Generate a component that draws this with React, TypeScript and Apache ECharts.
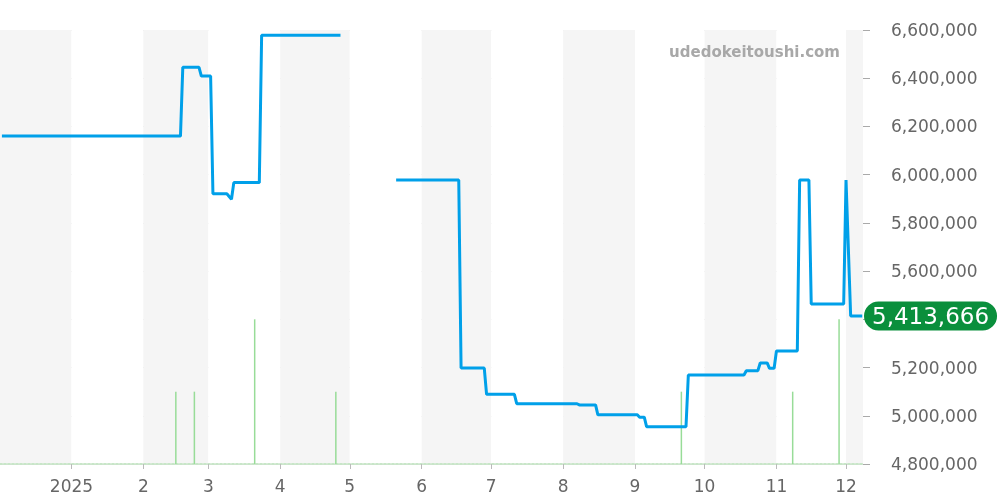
import React, { useEffect, useRef } from "react";
import * as echarts from "echarts";

const priceDates: string[] = [
  "2024-12-02", "2025-02-17", "2025-02-18", "2025-02-25", "2025-02-26", "2025-03-02",
  "2025-03-03", "2025-03-09", "2025-03-11", "2025-03-12", "2025-03-23", "2025-03-24",
  "2025-04-27", "2025-05-08", "2025-05-21", "2025-06-17", "2025-06-18", "2025-06-28",
  "2025-06-29", "2025-07-11", "2025-07-12", "2025-08-07", "2025-08-08", "2025-08-15",
  "2025-08-16", "2025-09-02", "2025-09-03", "2025-09-05", "2025-09-06", "2025-09-23",
  "2025-09-24", "2025-10-18", "2025-10-19", "2025-10-24", "2025-10-25", "2025-10-28",
  "2025-10-29", "2025-10-31", "2025-11-01", "2025-11-10", "2025-11-11", "2025-11-15",
  "2025-11-16", "2025-11-30", "2025-12-01", "2025-12-03", "2025-12-08",
];
const priceValues: (number | null)[] = [
  6160000, 6160000, 6445000, 6445000, 6409000, 6409000,
  5921000, 5921000, 5898000, 5967000, 5967000, 6578000,
  6578000, null, 5978000, 5978000, 5198000, 5198000,
  5089000, 5089000, 5050000, 5050000, 5045000, 5045000,
  5004000, 5004000, 4994000, 4994000, 4955000, 4955000,
  5169000, 5169000, 5187000, 5187000, 5219000, 5219000,
  5197000, 5197000, 5269000, 5269000, 5978000, 5978000,
  5464000, 5464000, 5978000, 5413666, 5413666,
];
const volumeDates: string[] = [
  "2025-02-15", "2025-02-23", "2025-03-21", "2025-04-25", "2025-09-21", "2025-11-08", "2025-11-28",
];
const volumeValues: number[] = [1, 1, 2, 1, 1, 1, 2];
const latestPrice = 5413666;
const yTicks = { min: 4800000, max: 6600000, interval: 200000 };

export default function App() {
  const ref = useRef<HTMLDivElement>(null);
  useEffect(() => {
    if (!ref.current) return;
    const chart = echarts.init(ref.current, undefined, { renderer: "svg" });
    const font = "'DejaVu Sans', sans-serif";
    chart.setOption({
      animation: false,
      grid: { left: 0, right: 137, top: 30, bottom: 36, outerBoundsMode: "none", containLabel: false },
      graphic: [
        {
          type: "text",
          right: 160,
          top: 44,
          style: {
            text: "udedokeitoushi.com",
            fill: "#a8a8a8",
            font: "bold 15px 'DejaVu Sans', sans-serif",
          },
          z: 10,
        },
      ],
      xAxis: {
        type: "time",
        min: new Date(2024, 11, 1, 12).getTime(),
        max: new Date(2025, 11, 8).getTime(),
        splitNumber: 12,
        minInterval: 28 * 86400000,
        axisLine: { show: true, lineStyle: { color: "#c8e6c8", type: [2, 2], width: 2 } },
        axisTick: { show: true, length: 5, lineStyle: { color: "#bbb" } },
        axisLabel: {
          color: "#666",
          fontSize: 17,
          fontFamily: font,
          margin: 13,
          showMinLabel: false,
          formatter: (v: number) => {
            const d = new Date(v);
            return d.getMonth() === 0 ? String(d.getFullYear()) : String(d.getMonth() + 1);
          },
        },
        splitLine: { show: false },
        splitArea: { show: true, areaStyle: { color: ["#f5f5f5", "#ffffff"] } },
      },
      yAxis: [
        {
          type: "value",
          position: "right",
          min: yTicks.min,
          max: yTicks.max,
          interval: yTicks.interval,
          axisLine: { show: false },
          axisTick: { show: true, length: 7, lineStyle: { color: "#aaa" } },
          axisLabel: {
            color: "#666",
            fontSize: 17,
            fontFamily: font,
            margin: 28,
            formatter: (v: number) => (v === 5400000 ? "" : v.toLocaleString("en-US")),
          },
          splitLine: { show: true, lineStyle: { color: "#e0e0e0" } },
        },
        {
          type: "value",
          min: 0,
          max: 6,
          show: false,
          splitLine: { show: false },
        },
      ],
      series: [
        {
          type: "bar",
          yAxisIndex: 1,
          barWidth: 1.5,
          itemStyle: { color: "#98dc98" },
          data: volumeDates.map((d, i) => [d, volumeValues[i]]),
          z: 1,
        },
        {
          type: "line",
          yAxisIndex: 0,
          showSymbol: false,
          connectNulls: false,
          lineStyle: { color: "#00a0e9", width: 3 },
          itemStyle: { color: "#00a0e9" },
          data: priceDates.map((d, i) => [d, priceValues[i]]),
          markLine: {
            silent: true,
            symbol: "none",
            z: 20,
            lineStyle: { color: "rgba(0,0,0,0)", width: 0 },
            data: [{ yAxis: latestPrice }],
            label: {
              show: true,
              position: "end",
              distance: 1,
              formatter: () => latestPrice.toLocaleString("en-US"),
              color: "#fff",
              fontSize: 23,
              fontFamily: font,
              backgroundColor: "#0a8f3c",
              borderRadius: 16,
              padding: [3, 8, 3, 8],
            },
          },
          z: 3,
        },
      ],
    });
    return () => chart.dispose();
  }, []);
  return <div ref={ref} style={{ position: "fixed", left: 0, top: 0, width: 1000, height: 500 }} />;
}
